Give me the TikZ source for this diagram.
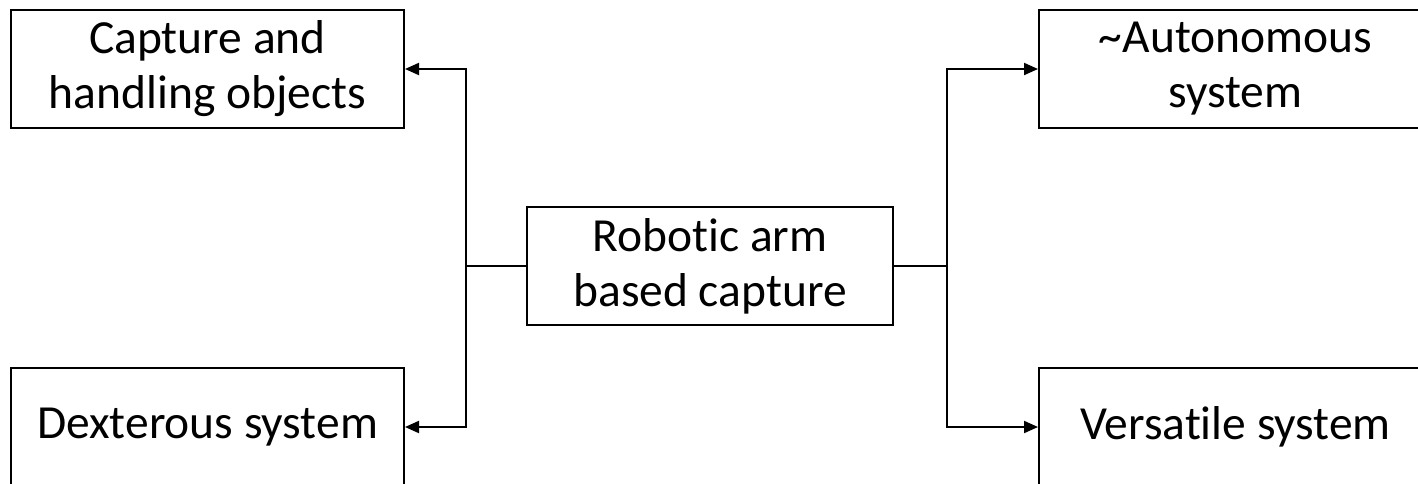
\documentclass[tikz,border=0pt]{standalone}
\usepackage{fontspec}
\setmainfont[Ligatures={NoCommon}]{Carlito}
\usetikzlibrary{arrows.meta}
\begin{document}
\begin{tikzpicture}[x=1pt,y=-1pt,
  box/.style={draw, line width=2pt, minimum width=393pt, minimum height=118pt,
    inner sep=0pt, align=center, font=\fontsize{47.5}{55}\selectfont},
  link/.style={line width=2pt},
  arrowlink/.style={link, -{Triangle[length=14pt,width=12pt]}}]
  \useasboundingbox (0,0) rectangle (1418,483);
  \fill[white] (0,0) rectangle (1418,483);
  \clip (0,0) rectangle (1418,483);

  % central concept
  \node[box, minimum width=366pt] (rob) at (710,266) {Robotic arm\\based capture};

  % left branch
  \node[box] (cap) at (207.5,69)  {Capture and\\handling objects};
  \node[box] (dex) at (207.5,427) {Dexterous system};

  % right branch
  \node[box] (aut) at (1235.5,69)  {\textasciitilde Autonomous\\system};
  \node[box] (ver) at (1235.5,427) {Versatile system};

  % junction points of the forks
  \coordinate (jl) at (466,266);
  \coordinate (jr) at (947,266);

  \draw[link] (rob.west) -- (jl);
  \draw[arrowlink] (jl) |- (cap.east);
  \draw[arrowlink] (jl) |- (dex.east);

  \draw[link] (rob.east) -- (jr);
  \draw[arrowlink] (jr) |- (aut.west);
  \draw[arrowlink] (jr) |- (ver.west);
\end{tikzpicture}
\end{document}
